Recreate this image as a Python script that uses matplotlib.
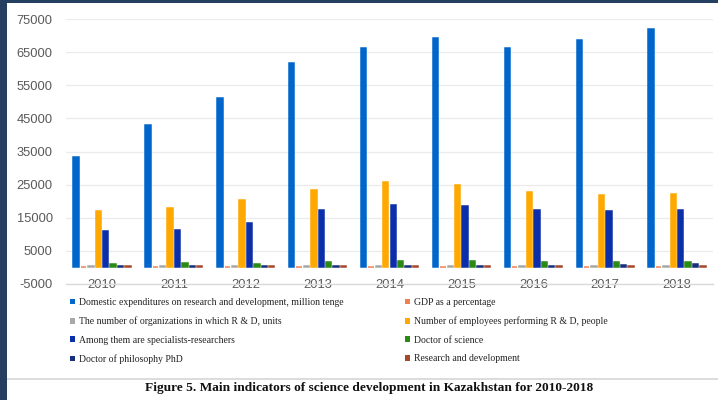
import numpy as np
import matplotlib
matplotlib.use('Agg')
import matplotlib.pyplot as plt
from matplotlib.patches import Patch, Rectangle
from matplotlib.lines import Line2D

# data
years = ['2010', '2011', '2012', '2013', '2014', '2015', '2016', '2017', '2018']

domestic = [33470, 43040, 51060, 61750, 66290, 69190, 66200, 68600, 71900]
gdp_pct = [0.15, 0.15, 0.17, 0.17, 0.17, 0.17, 0.14, 0.13, 0.12]
organizations = [424, 345, 345, 341, 390, 393, 383, 386, 384]
employees = [16950, 18050, 20260, 23500, 25800, 24800, 22800, 22000, 22100]
specialists = [10890, 11400, 13500, 17240, 18960, 18450, 17340, 17150, 17240]
doctor_science = [1150, 1200, 1050, 1650, 1800, 1800, 1700, 1700, 1700]
doctor_phd = [400, 450, 450, 400, 500, 550, 550, 800, 1100]
research_dev = [300, 300, 300, 300, 300, 300, 300, 300, 300]

labels = [
    'Domestic expenditures on research and development, million tenge',
    'GDP as a percentage',
    'The number of organizations in which R & D, units',
    'Number of employees performing R & D, people',
    'Among them are specialists-researchers',
    'Doctor of science',
    'Doctor of philosophy PhD',
    'Research and development',
]
series = [domestic, gdp_pct, organizations, employees, specialists,
          doctor_science, doctor_phd, research_dev]
colors = ['#0066CC', '#F2804E', '#A8A8A8', '#FFA800',
          '#0B2FA8', '#2A8A14', '#16307C', '#A8482A']

fig = plt.figure(figsize=(7.18, 4.0), dpi=100)
ax = fig.add_axes([66/718, 1-284/400, (713-66)/718, (284-19)/400])

x = np.arange(len(years))
step = 0.103
w = 0.075
for j, (vals, c) in enumerate(zip(series, colors)):
    ax.bar(x + (j-3.5)*step, vals, width=w, color=c, edgecolor=c,
           linewidth=1.1, zorder=3)

ax.set_xlim(-0.5, len(years)-0.5)
ax.set_ylim(-5000, 75000)
yt = np.arange(-5000, 75001, 10000)
ax.set_yticks(yt)
ax.set_yticklabels([str(v) for v in yt])
ax.grid(axis='y', color='#EBEBEB', linewidth=0.9, zorder=0)
for s in ['top', 'right', 'left']:
    ax.spines[s].set_visible(False)
ax.spines['bottom'].set_color('#D9D9D9')
ax.spines['bottom'].set_linewidth(1.0)

ax.set_xticks(x)
ax.set_xticklabels(years)
ax.tick_params(axis='both', length=0, labelsize=9.3, labelcolor='#595959')
ax.tick_params(axis='y', pad=9.5)
ax.tick_params(axis='x', pad=-3.5)
for lbl in ax.get_xticklabels() + ax.get_yticklabels():
    lbl.set_family('Liberation Sans')
for lbl in ax.get_xticklabels():
    lbl.set_bbox(dict(facecolor='white', edgecolor='none', pad=1.0))

# legend in two columns, row-major like the original
handles = [Patch(facecolor=c, edgecolor='none') for c in colors]
left_idx = [0, 2, 4, 6]
right_idx = [1, 3, 5, 7]
leg_kw = dict(loc='upper left', frameon=False, borderpad=0, borderaxespad=0,
              handlelength=0.55, handleheight=0.55, handletextpad=0.35,
              labelspacing=0.98, prop={'family': 'Liberation Serif', 'size': 7.0},
              labelcolor='#222222')
fig.legend([handles[i] for i in left_idx], [labels[i] for i in left_idx],
           bbox_to_anchor=(70/718, 1-298/400), **leg_kw)
fig.legend([handles[i] for i in right_idx], [labels[i] for i in right_idx],
           bbox_to_anchor=(405/718, 1-298/400), **leg_kw)

# frame bits around the figure
fig.patches.append(Rectangle((0, 0), 7/718, 1, transform=fig.transFigure,
                             facecolor='#243F60', edgecolor='none', zorder=5))
fig.patches.append(Rectangle((0, 1-3/400), 1, 3/400, transform=fig.transFigure,
                             facecolor='#243F60', edgecolor='none', zorder=5))
fig.lines.append(Line2D([7/718, 1], [1-379/400, 1-379/400], transform=fig.transFigure,
                        color='#D6D6D6', linewidth=1.2))

fig.text(369/718, 1-388/400,
         'Figure 5. Main indicators of science development in Kazakhstan for 2010-2018',
         ha='center', va='center', family='Liberation Serif', weight='bold',
         size=9.6, color='#111111')

fig.savefig('out.png', dpi=100)
